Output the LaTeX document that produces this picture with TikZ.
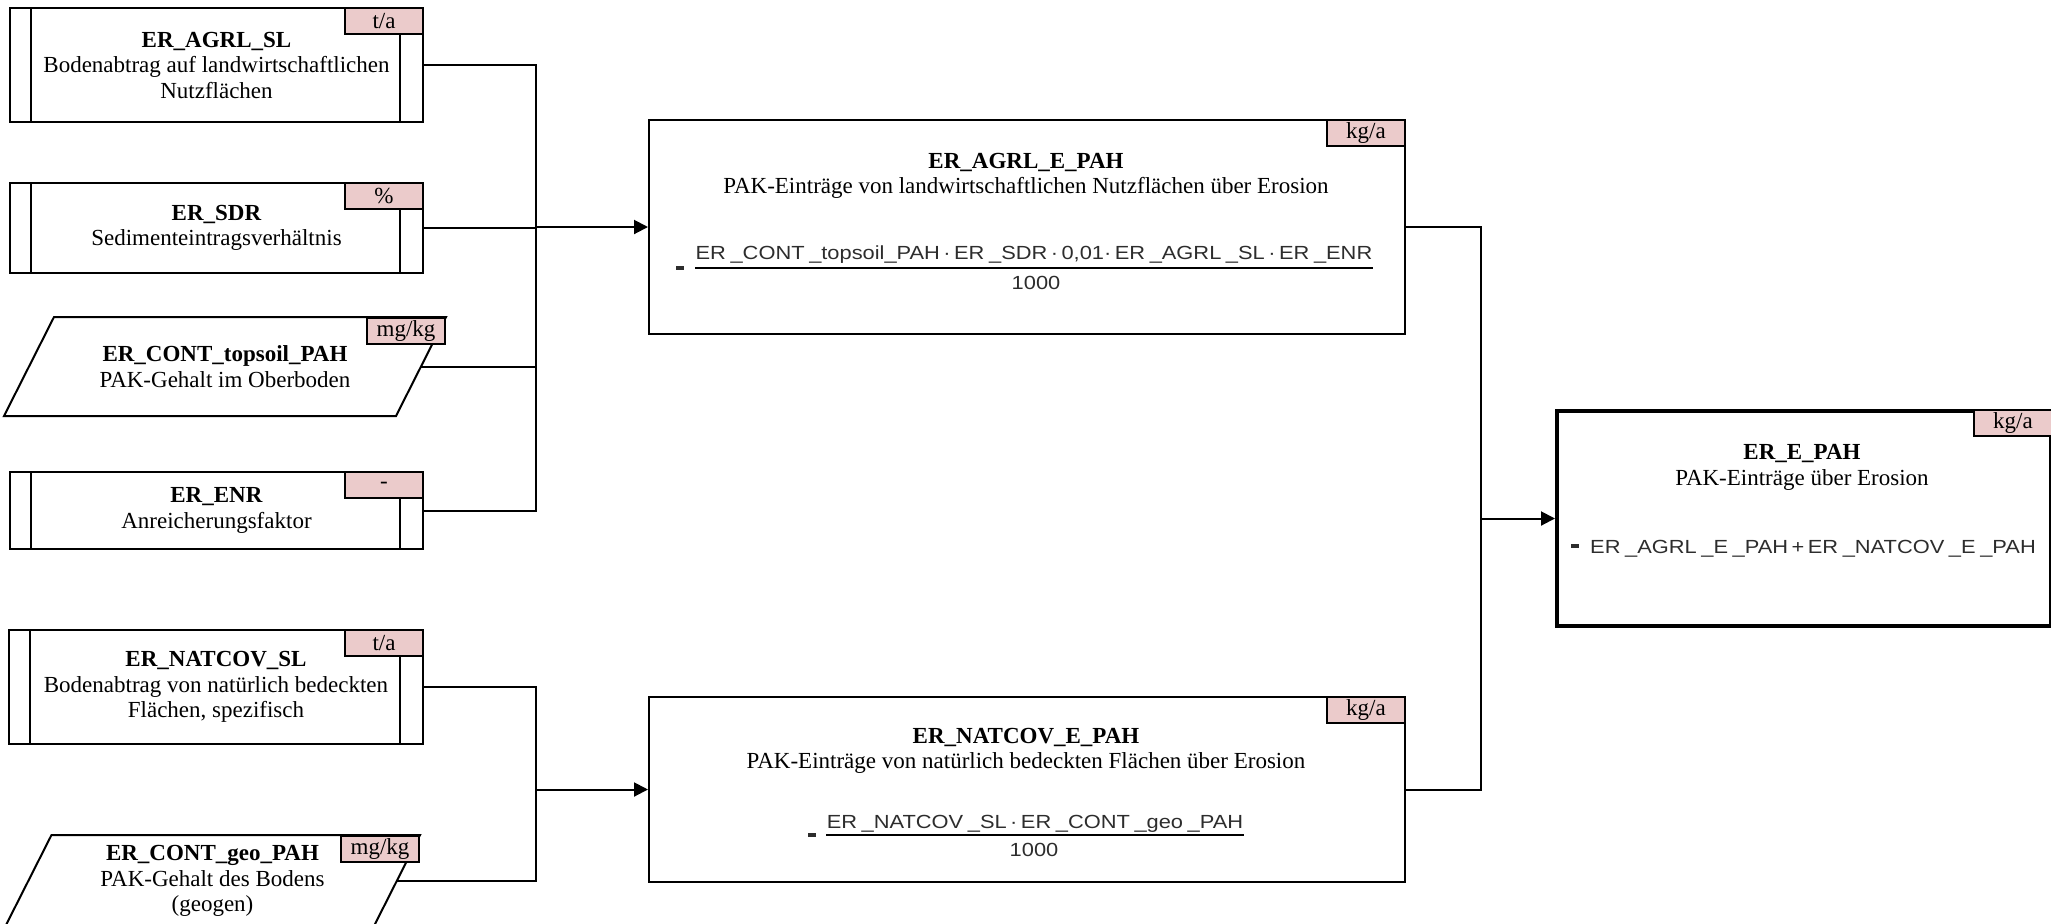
\documentclass[tikz,border=0pt]{standalone}
\usepackage{graphicx}
\usepackage{fontspec}
\setmainfont{Liberation Serif}
\newfontfamily\fmlfont{Liberation Sans}
\usetikzlibrary{arrows.meta,calc}
\definecolor{unitpink}{RGB}{235,203,203}
\definecolor{fmlgrey}{RGB}{45,45,45}
\newcommand{\fg}{\hspace{2pt}}
\newcommand{\fd}{\hspace{1.5pt}}
\newcommand{\fml}[1]{\scalebox{1.15}[1]{\fmlfont\fontsize{9.5}{10}\selectfont #1}}
\begin{document}
\begin{tikzpicture}[x=0.5pt,y=-0.5pt,
  lbl/.style={align=center,font=\fontsize{11.5}{12.75}\selectfont},
  box/.style={draw,line width=1pt,rectangle,inner sep=0pt,anchor=north west},
  paratext/.style={lbl,rectangle,inner sep=0pt,outer sep=0pt},
  paraline/.style={line width=1pt,line join=miter},
  unit/.style={draw,fill=unitpink,line width=1pt,minimum width=39pt,minimum height=13pt,inner sep=0pt,anchor=north east,font=\fontsize{11.5}{12}\selectfont},
  conn/.style={line width=1pt},
  arr/.style={conn,-{Triangle[length=7pt,width=7pt]}},
  fml/.style={inner sep=0pt,text=fmlgrey,anchor=base},
  eqbar/.style={fill=fmlgrey,minimum width=4pt,minimum height=1.8pt,inner sep=0pt},
  bar/.style={line width=1pt}]
\useasboundingbox (0,0) rectangle (2051,923);

% ---------- left column ----------
\node[box,lbl,minimum width=206.5pt,minimum height=57pt] (agrlsl) at (9,7) {\textbf{ER\_AGRL\_SL}\\Bodenabtrag auf landwirtschaftlichen\\Nutzflächen};
\node[unit] (agrlslu) at (agrlsl.north east) {t/a};
\draw[bar] ([xshift=11pt]agrlsl.north west) -- ([xshift=11pt]agrlsl.south west);
\draw[bar] ([xshift=-12pt]agrlslu.south east) -- ([xshift=-12pt]agrlsl.south east);

\node[box,lbl,minimum width=206.5pt,minimum height=45pt] (sdr) at (9,182) {\textbf{ER\_SDR}\\Sedimenteintragsverhältnis};
\node[unit] (sdru) at (sdr.north east) {\%};
\draw[bar] ([xshift=11pt]sdr.north west) -- ([xshift=11pt]sdr.south west);
\draw[bar] ([xshift=-12pt]sdru.south east) -- ([xshift=-12pt]sdr.south east);

\node[paratext,minimum width=221pt,minimum height=49.5pt] (topsoil) at (225,366.5) {\textbf{ER\_CONT\_topsoil\_PAH}\\PAK-Gehalt im Oberboden};
\draw[paraline] ([xshift=25pt]topsoil.north west) -- (topsoil.north east) -- ([xshift=-25pt]topsoil.south east) -- (topsoil.south west) -- cycle;
\node[unit] (topsoilu) at (topsoil.north east) {mg/kg};

\node[box,lbl,minimum width=206.5pt,minimum height=38.5pt] (enr) at (9,471) {\textbf{ER\_ENR}\\Anreicherungsfaktor};
\node[unit] (enru) at (enr.north east) {-};
\draw[bar] ([xshift=11pt]enr.north west) -- ([xshift=11pt]enr.south west);
\draw[bar] ([xshift=-12pt]enru.south east) -- ([xshift=-12pt]enr.south east);

\node[box,lbl,minimum width=207pt,minimum height=57pt] (natcovsl) at (8,629) {\textbf{ER\_NATCOV\_SL}\\Bodenabtrag von natürlich bedeckten\\Flächen, spezifisch};
\node[unit] (natcovslu) at (natcovsl.north east) {t/a};
\draw[bar] ([xshift=11pt]natcovsl.north west) -- ([xshift=11pt]natcovsl.south west);
\draw[bar] ([xshift=-12pt]natcovslu.south east) -- ([xshift=-12pt]natcovsl.south east);

\node[paratext,minimum width=207.5pt,minimum height=46pt] (geo) at (212.5,881) {\textbf{ER\_CONT\_geo\_PAH}\\PAK-Gehalt des Bodens\\(geogen)};
\draw[paraline] ([xshift=23.25pt]geo.north west) -- (geo.north east) -- ([xshift=-23.25pt]geo.south east) -- (geo.south west) -- cycle;
\node[unit] (geou) at (geo.north east) {mg/kg};

% ---------- middle column ----------
\node[box,minimum width=378pt,minimum height=107pt] (agrle) at (648,119) {};
\node[unit] (agrleu) at (agrle.north east) {kg/a};
\node[lbl] (agrlet) at (1026,176) {\textbf{ER\_AGRL\_E\_PAH}\\PAK-Einträge von landwirtschaftlichen Nutzflächen über Erosion};
\node[fml] (agrlen) at (1034,259.5) {\fml{ER\fg\_CONT\fg\_topsoil\_PAH\fd·\fd ER\fg\_SDR\fd·\fd 0,01·\fd ER\fg\_AGRL\fg\_SL\fd·\fd ER\fg\_ENR}};
\node[fml] (agrled) at (1036,289.5) {\fml{1000}};
\node[eqbar] (agrleq) at (680,268) {};
\draw[bar] (agrlen.west |- agrleq) -- (agrlen.east |- agrleq);

\node[box,minimum width=378pt,minimum height=92.5pt] (natcove) at (648,696) {};
\node[unit] (natcoveu) at (natcove.north east) {kg/a};
\node[lbl] (natcovet) at (1026,751) {\textbf{ER\_NATCOV\_E\_PAH}\\PAK-Einträge von natürlich bedeckten Flächen über Erosion};
\node[fml] (natcoven) at (1035,828.5) {\fml{ER\fg\_NATCOV\fg\_SL\fd·\fd ER\fg\_CONT\fg\_geo\fg\_PAH}};
\node[fml] (natcoved) at (1034,856.5) {\fml{1000}};
\node[eqbar] (natcoveq) at (812,835) {};
\draw[bar] (natcoven.west |- natcoveq) -- (natcoven.east |- natcoveq);

% ---------- right ----------
\node[box,line width=2pt,minimum width=247pt,minimum height=107.5pt] (epah) at (1555,409) {};
\node[unit] (epahu) at (epah.north east) {kg/a};
\node[lbl] (epaht) at (1802,467.5) {\textbf{ER\_E\_PAH}\\PAK-Einträge über Erosion};
\node[fml] (epahf) at (1813,553.5) {\fml{ER\fg\_AGRL\fg\_E\fg\_PAH\fd+\fd ER\fg\_NATCOV\fg\_E\fg\_PAH}};
\node[eqbar] (epaheq) at (1575,546) {};

% ---------- connectors ----------
\coordinate (xa) at (536,0);
\coordinate (xb) at (1481,0);
\coordinate (j1) at (agrle.west -| xa);
\coordinate (j2) at (natcove.west -| xa);
\coordinate (j3) at (epah.west -| xb);
\draw[conn] (agrlsl.east) -| (j1);
\draw[conn] ([xshift=-12.5pt]topsoil.east) -| (j1);
\draw[conn] (enr.east) -| (j1);
\draw[conn] (sdr.east) -- (sdr.east -| j1);
\draw[arr] (j1) -- (agrle.west);
\draw[conn] (natcovsl.east) -| (j2);
\draw[conn] ([xshift=-11.625pt]geo.east) -| (j2);
\draw[arr] (j2) -- (natcove.west);
\draw[conn] (agrle.east) -| (j3);
\draw[conn] (natcove.east) -| (j3);
\draw[arr] (j3) -- (epah.west);
\end{tikzpicture}
\end{document}
